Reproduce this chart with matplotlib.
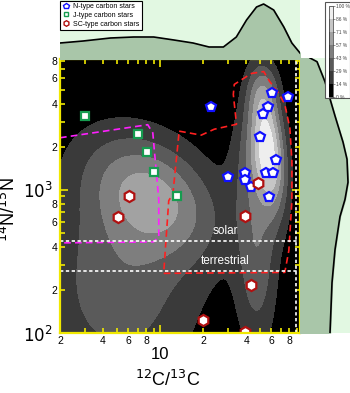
import numpy as np
import matplotlib.pyplot as plt
from matplotlib.lines import Line2D
from matplotlib.patches import Rectangle

plt.rcParams['font.family'] = ['Liberation Sans', 'DejaVu Sans']

# ---- star measurements (12C/13C, 14N/15N) ----
n_type_c = [22.8, 60.3, 78.1, 56.5, 52.1, 49.6, 64.3, 39.5, 54.7, 61.3, 30.0, 39.5, 42.9, 57.4]
n_type_n = [3800, 4770, 4470, 3800, 3400, 2350, 1620, 1315, 1315, 1315, 1233, 1175, 1050, 893]
j_type_c = [3.0, 7.0, 8.07, 9.0, 13.1]
j_type_n = [3290, 2470, 1845, 1336, 908]
sc_type_c = [5.05, 6.03, 48.7, 39.5, 42.9, 20.0, 39.5]
sc_type_n = [647, 908, 1120, 658, 217, 123, 102]

# ---- outlined regions ----
n_region_c = [13.6, 19.4, 23.9, 34.2, 32.5, 33.0, 43.5, 53.0, 58.3, 67.5, 74.4, 80.7,
              83.4, 83.4, 79.4, 74.4, 10.6, 11.5, 12.3, 13.6]
n_region_n = [2570, 2410, 2650, 2870, 4640, 5450, 6500, 6700, 5720, 4720, 3950, 2700,
              1590, 840, 377, 265, 261, 840, 940, 2570]
j_region_c = [2.0, 8.2, 8.9, 9.8, 9.8, 9.0, 2.0]
j_region_n = [2310, 2850, 2500, 850, 470, 433, 426]

solar_c, solar_n, terr_n = 89, 441, 272

# ---- density surface: gaussian blobs in log10 space ----
blob_u = [0.95, 0.72, 1.76, 1.68, 1.72, 1.62]
blob_v = [2.97, 2.35, 3.28, 2.50, 3.70, 3.25]
blob_su = [0.33, 0.40, 0.085, 0.10, 0.08, 0.10]
blob_sv = [0.30, 0.55, 0.30, 0.45, 0.15, 0.30]
blob_rho = [-0.35, 0.0, -0.3, 0.0, 0.0, 0.0]
blob_w = [0.50, 0.38, 0.85, 0.35, 0.25, 0.22]

# ---- marginal curves ----
top_c = [2.0, 2.9, 4.5, 6.54, 9.03, 12.5, 17.0, 22.0, 27.7, 34.1, 40.2, 47.2, 52.9, 62.2, 73.2, 83.3, 95]
top_h = [16, 18, 21, 22, 22, 19, 16, 12, 12, 22, 39, 52, 55, 49, 32, 16, 6]
side_n = [8200, 7730, 5600, 4260, 3240, 2130, 1620, 1120, 851, 647, 380, 224, 100]
side_h = [10, 17, 25, 30, 35, 43, 47, 48, 45, 40, 35, 32, 30]

pct_labels = ['0 %', '14 %', '29 %', '43 %', '57 %', '71 %', '86 %', '100 %']
grays = ['#000000', '#3a3a3a', '#5a5a5a', '#7e7e7e', '#a2a2a2', '#c6c6c6', '#eeeeee']

xmin, xmax, ymin, ymax = 2, 95, 100, 8200

fig = plt.figure(figsize=(3.5, 3.93), dpi=100)
ax = fig.add_axes([60/350, 60/393, 240/350, 274/393])

uu = np.linspace(np.log10(xmin), np.log10(xmax), 300)
vv = np.linspace(np.log10(ymin), np.log10(ymax), 300)
U, V = np.meshgrid(uu, vv)
D = np.zeros_like(U)
for u0, v0, su, sv, r, w in zip(blob_u, blob_v, blob_su, blob_sv, blob_rho, blob_w):
    z1 = (U - u0) / su
    z2 = (V - v0) / sv
    q = (z1**2 + z2**2 - 2*r*z1*z2) / (1 - r**2)
    D += w * np.exp(-q / 2)
D = D / D.max()
levels = np.linspace(0, 1, 8)
levels[-1] = 1.001
cf = ax.contourf(10**U, 10**V, D, levels=levels, colors=grays)

ax.set_xscale('log')
ax.set_yscale('log')

ax.plot(n_region_c, n_region_n, color='#ff2020', ls=(0, (4, 2.5)), lw=1.2)
ax.plot(j_region_c, j_region_n, color='#ff20ff', ls=(0, (4, 2.5)), lw=1.2)
ax.axhline(solar_n, color='white', ls=(0, (2, 1.5)), lw=1.2)
ax.axhline(terr_n, color='white', ls=(0, (2, 1.5)), lw=1.2)
ax.axvline(solar_c, color='white', ls=(0, (2, 1.5)), lw=1.2)
ax.text(28.6, 517, 'solar', color='white', fontsize=8.5, ha='center', va='center')
ax.text(28.6, 318, 'terrestrial', color='white', fontsize=8.5, ha='center', va='center')

ax.plot(n_type_c, n_type_n, 'p', ms=7.5, mfc='white', mec='#1010ff', mew=1.6, ls='none')
ax.plot(j_type_c, j_type_n, 's', ms=5.5, mfc='white', mec='#169c50', mew=1.6, ls='none')
ax.plot(sc_type_c, sc_type_n, 'h', ms=8, mfc='white', mec='#b01010', mew=1.6, ls='none')

# axes styling
for s in ax.spines.values():
    s.set_color('#f0e800')
    s.set_linewidth(1.6)
ax.tick_params(which='both', direction='in', colors='#f0e800', labelcolor='black',
               top=True, right=True, width=1.2)
ax.tick_params(which='major', length=6, labelsize=12, pad=10)
ax.tick_params(which='minor', length=3.5, labelsize=7.5, pad=2)
ax.tick_params(axis='y', which='major', pad=5)

ax.set_xticks([10, 100])
ax.set_xticklabels(['10', '100'])
xminor = [2, 3, 4, 5, 6, 7, 8, 9, 20, 30, 40, 50, 60, 70, 80, 90]
ax.set_xticks(xminor, minor=True)
ax.set_xticklabels(['2', '', '4', '', '6', '', '8', ''] * 2, minor=True)
ax.set_yticks([100, 1000])
ax.set_yticklabels(['$10^2$', '$10^3$'])
yminor = [200, 300, 400, 500, 600, 700, 800, 900, 2000, 3000, 4000, 5000, 6000, 7000, 8000]
ax.set_yticks(yminor, minor=True)
ax.set_yticklabels(['2', '', '4', '', '6', '', '8', '', '2', '', '4', '', '6', '', '8'], minor=True)
ax.set_xlim(xmin, xmax)
ax.set_ylim(ymin, ymax)

ax.set_xlabel('$^{12}$C/$^{13}$C', fontsize=13)
ax.xaxis.set_label_coords(0.45, -0.135)
ax.set_ylabel('$^{14}$N/$^{15}$N', fontsize=13)
ax.yaxis.set_label_coords(-0.17, 0.45)

# marginal plots
light = '#e2f8e2'
sage = '#a9c6a9'
axt = fig.add_axes([60/350, 334/393, 240/350, 59/393])
axt.add_patch(Rectangle((0, 0), 1, 1, transform=axt.transAxes, color=light, zorder=-1))
axt.fill_between(top_c, top_h, color=sage)
axt.plot(top_c, top_h, color='black', lw=1.2)
axt.set_xscale('log')
axt.set_xlim(xmin, xmax)
axt.set_ylim(0, 59)
axt.axis('off')

axr = fig.add_axes([300/350, 60/393, 50/350, 275/393])
axr.add_patch(Rectangle((0, 0), 1, 1, transform=axr.transAxes, color=light, zorder=-1))
axr.fill_betweenx(side_n, side_h, color=sage)
axr.plot(side_h, side_n, color='black', lw=1.2)
axr.set_yscale('log')
axr.set_ylim(ymin, ymax)
axr.set_xlim(0, 50)
axr.axis('off')

# colorbar in a white box
fig.patches.append(Rectangle((325/350, 1 - 98/393), 25/350, 96/393, transform=fig.transFigure,
                             facecolor='white', edgecolor='#555555', lw=0.8, zorder=5))
cax = fig.add_axes([329/350, 1 - 97/393, 4/350, 91/393])
cax.set_zorder(6)
cb = fig.colorbar(cf, cax=cax)
cb.set_ticks(levels)
cb.set_ticklabels(pct_labels)
cb.outline.set_linewidth(0.4)
cax.tick_params(labelsize=3.5, length=1.5, width=0.4, pad=0.8, colors='#444444')

handles = [Line2D([], [], marker='p', ms=4, mfc='white', mec='#1010ff', mew=1, ls='none'),
           Line2D([], [], marker='s', ms=3, mfc='white', mec='#169c50', mew=1, ls='none'),
           Line2D([], [], marker='h', ms=4, mfc='white', mec='#b01010', mew=1, ls='none')]
leg = fig.legend(handles, ['N-type carbon stars', 'J-type carbon stars', 'SC-type carbon stars'],
                 loc='upper left', bbox_to_anchor=(60/350, 1 - 1/393), fontsize=5,
                 fancybox=False, edgecolor='black', framealpha=1, borderpad=0.3,
                 labelspacing=0.25, handletextpad=0.4, handlelength=1.2, borderaxespad=0)
leg.get_frame().set_linewidth(0.8)

fig.savefig('out.png', dpi=100)
